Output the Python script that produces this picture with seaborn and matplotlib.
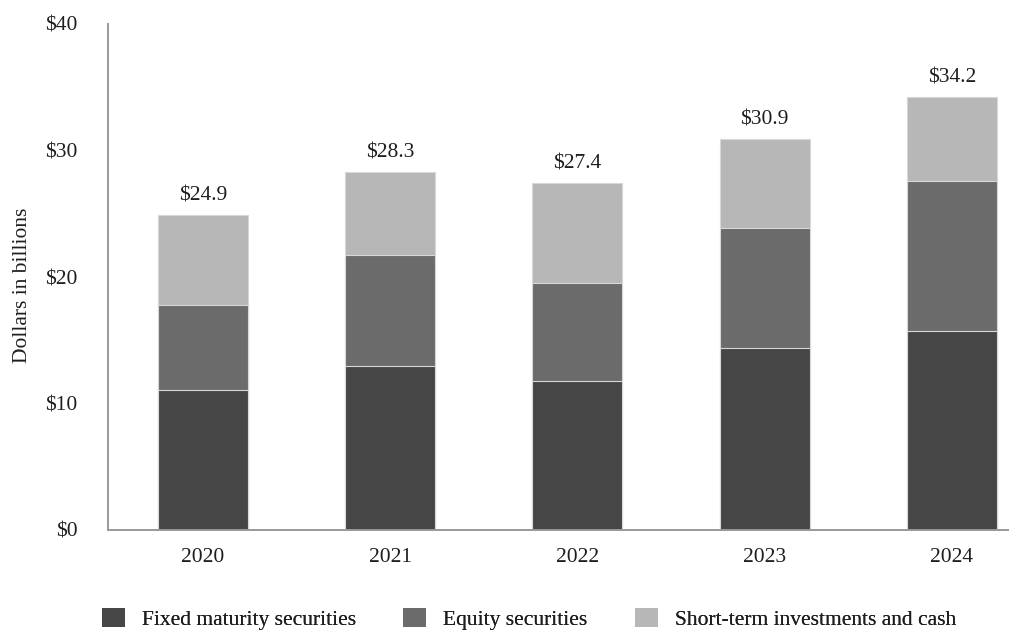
import matplotlib
matplotlib.use("Agg")
import matplotlib.pyplot as plt
from matplotlib.patches import Patch
import numpy as np
import pandas as pd
import seaborn as sns

years = ["2020", "2021", "2022", "2023", "2024"]
fixed_maturity = [11.1, 13.0, 11.8, 14.4, 15.7]
equity = [6.7, 8.7, 7.7, 9.5, 11.9]
short_term_cash = [7.1, 6.6, 7.9, 7.0, 6.6]
totals = [24.9, 28.3, 27.4, 30.9, 34.2]
series_names = ["Fixed maturity securities", "Equity securities",
                "Short-term investments and cash"]
colors = ["#464646", "#6b6b6b", "#b7b7b7"]

FS = 15.5
TXT = "#1e1e1e"

sns.set_theme(style="white")
plt.rcParams["font.family"] = ["Liberation Serif", "DejaVu Serif"]

df = pd.DataFrame({
    "year": years,
    "fixed": fixed_maturity,
    "equity": equity,
    "short": short_term_cash,
})
# cumulative heights so each layer sits on the one below it
df["lvl1"] = df["fixed"]
df["lvl2"] = df["fixed"] + df["equity"]
df["lvl3"] = df["lvl2"] + df["short"]

fig = plt.figure(figsize=(10.31, 6.31), dpi=100)
ax = fig.add_axes([108 / 1031, 101 / 631, 900 / 1031, 506 / 631])

for col, color in zip(["lvl3", "lvl2", "lvl1"], colors[::-1]):
    sns.barplot(data=df, x="year", y=col, color=color, width=0.48,
                edgecolor="#d8d8d8", linewidth=0.8, saturation=1, ax=ax)

for i, t in enumerate(totals):
    ax.annotate(f"${t:.1f}", xy=(i, t), xytext=(0, 7), textcoords="offset points",
                ha="center", va="bottom", fontsize=FS, color=TXT)

ax.set_ylim(0, 40)
ax.set_xlim(-0.507, 4.3)
ax.set_yticks([0, 10, 20, 30, 40])
ax.set_yticklabels([f"${v}" for v in [0, 10, 20, 30, 40]])
ax.tick_params(axis="both", length=0, labelsize=FS, colors=TXT)
ax.tick_params(axis="x", pad=13)
ax.tick_params(axis="y", pad=22)
ax.set_xlabel("")
ax.set_ylabel("Dollars in billions", fontsize=FS, color=TXT)
ax.yaxis.set_label_coords(-0.084, 0.484)

for side in ["top", "right"]:
    ax.spines[side].set_visible(False)
for side in ["left", "bottom"]:
    ax.spines[side].set_color("#999999")
    ax.spines[side].set_linewidth(1.4)

# legend entries placed individually along the bottom
legend_x = [102, 403, 635]
for name, color, x in zip(series_names, colors, legend_x):
    leg = fig.legend([Patch(facecolor=color, edgecolor="none")], [name],
                     loc="center left", bbox_to_anchor=(x / 1031, 1 - 619 / 631),
                     frameon=False, fontsize=FS, handlelength=1.07, handleheight=1.0,
                     handletextpad=0.79, borderpad=0, borderaxespad=0,
                     labelcolor=TXT)
    fig.add_artist(leg)

fig.savefig("out.png", dpi=100)
